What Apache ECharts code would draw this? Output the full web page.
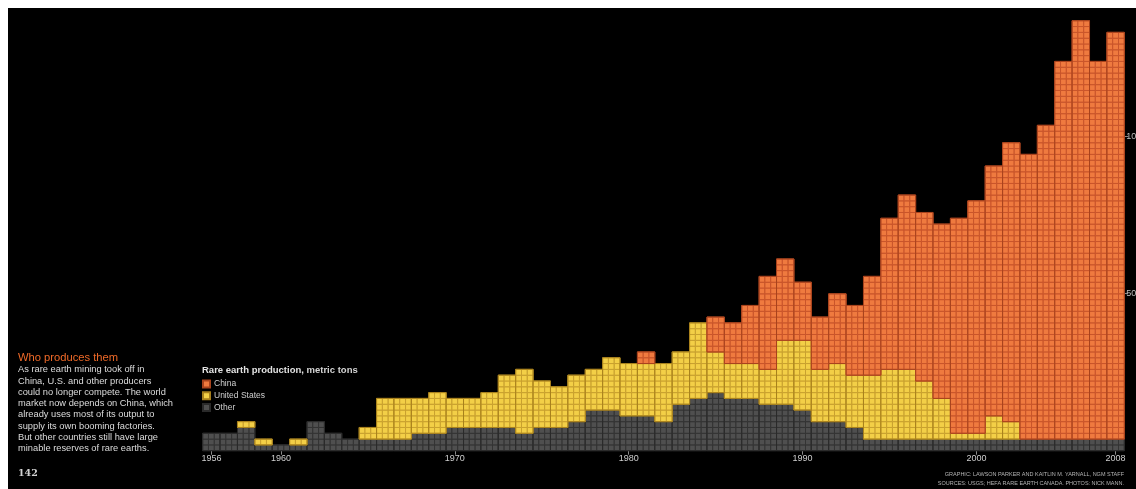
<!DOCTYPE html>
<html>
<head>
<meta charset="utf-8">
<script src="https://cdn.jsdelivr.net/npm/echarts@6/dist/echarts.min.js"></script>
<style>
  html, body { margin: 0; padding: 0; background: #ffffff; }
  #panel { position: absolute; left: 8px; top: 8px; right: 0; bottom: 0; background: #000000; }
  #chart { position: absolute; left: 0; top: 0; width: 1136px; height: 489px; }
</style>
</head>
<body>
<div id="panel"></div>
<div id="chart"></div>
<script>
// Rare earth production by producer, metric tons per year
const years = ['1956','1957','1958','1959','1960','1961','1962','1963','1964','1965',
  '1966','1967','1968','1969','1970','1971','1972','1973','1974','1975',
  '1976','1977','1978','1979','1980','1981','1982','1983','1984','1985',
  '1986','1987','1988','1989','1990','1991','1992','1993','1994','1995',
  '1996','1997','1998','1999','2000','2001','2002','2003','2004','2005',
  '2006','2007','2008'];

const otherTons = [5500, 5500, 7400, 1900, 1900, 1900, 9300, 5500, 3700, 3700,
  3700, 3700, 5500, 5500, 7400, 7400, 7400, 7400, 5500, 7400,
  7400, 9300, 13000, 13000, 11100, 11100, 9300, 14800, 16700, 18500,
  16700, 16700, 14800, 14800, 13000, 9300, 9300, 7400, 3700, 3700,
  3700, 3700, 3700, 3700, 3700, 3700, 3700, 3700, 3700, 3700,
  3700, 3700, 3700];

const usTons = [0, 0, 1900, 1900, 0, 1900, 0, 0, 0, 3700,
  13000, 13000, 11100, 13000, 9300, 9300, 11100, 16700, 20400, 14800,
  13000, 14800, 13000, 16700, 16700, 16700, 18500, 16700, 24100, 13000,
  11100, 11100, 11100, 20400, 22200, 16700, 18500, 16700, 20400, 22200,
  22200, 18500, 13000, 1900, 1900, 7400, 5600, 0, 0, 0,
  0, 0, 0];

const chinaTons = [0, 0, 0, 0, 0, 0, 0, 0, 0, 0,
  0, 0, 0, 0, 0, 0, 0, 0, 0, 0,
  0, 0, 0, 0, 0, 3700, 0, 0, 0, 11100,
  13000, 18500, 29600, 25900, 18500, 16700, 22200, 22200, 31500, 48100,
  55500, 53700, 55500, 68500, 74000, 79600, 88800, 90700, 99900, 120300,
  133200, 120300, 129500];

const xLabelYears = ['1956', '1960', '1970', '1980', '1990', '2000', '2008'];
const yTickValues = [50000, 100000];

const introTitle = 'Who produces them';
const introLines = [
  'As rare earth mining took off in',
  'China, U.S. and other producers',
  'could no longer compete. The world',
  'market now depends on China, which',
  'already uses most of its output to',
  'supply its own booming factories.',
  'But other countries still have large',
  'minable reserves of rare earths.'
];
const creditLines = [
  'GRAPHIC: LAWSON PARKER AND KAITLIN M. YARNALL, NGM STAFF',
  'SOURCES: USGS; HEFA RARE EARTH CANADA. PHOTOS: NICK MANN.'
];

// Each square of the grid stands for this many tons
const CELL_TONS = 1850;
const cellsOf = v => Math.round(v / CELL_TONS);

const SANS = '"Liberation Sans", Arial, Helvetica, sans-serif';

const palette = {
  'Other':         { fill: '#4f4f4f', line: '#343434', edge: '#2a2a2a' },
  'United States': { fill: '#f3cf47', line: '#c9a12f', edge: '#a8801c' },
  'China':         { fill: '#ef7a3f', line: '#c9552b', edge: '#a8431d' }
};

// Stack bases in whole squares so every segment sits on the one below
const otherBase = years.map(() => 0);
const usBase = years.map((_, i) => cellsOf(otherTons[i]) * CELL_TONS);
const chinaBase = years.map((_, i) => (cellsOf(otherTons[i]) + cellsOf(usTons[i])) * CELL_TONS);

function buildData(values, bases) {
  return values.map((v, i) => [i, bases[i], v]);
}

function makeRenderer(name) {
  const c = palette[name];
  return function (params, api) {
    const i = api.value(0);
    const start = cellsOf(api.value(1));
    const n = cellsOf(api.value(2));
    if (!n) return;
    const bw = api.size([1, 0])[0];
    const cellH = api.size([0, CELL_TONS])[1];
    const base = api.coord([i, 0]);
    const x0 = base[0] - bw / 2;
    const cellW = bw / 3;
    const children = [];
    for (let r = 0; r < n; r++) {
      const y = base[1] - (start + r + 1) * cellH;
      for (let k = 0; k < 3; k++) {
        children.push({
          type: 'rect',
          shape: { x: x0 + k * cellW, y: y, width: cellW, height: cellH },
          style: { fill: c.fill, stroke: c.line, lineWidth: 1 }
        });
      }
    }
    children.push({
      type: 'rect',
      shape: { x: x0, y: base[1] - (start + n) * cellH, width: bw, height: n * cellH },
      style: { fill: null, stroke: c.edge, lineWidth: 1 }
    });
    return { type: 'group', children: children };
  };
}

function series(name, values, bases) {
  return {
    name: name,
    type: 'custom',
    renderItem: makeRenderer(name),
    data: buildData(values, bases),
    encode: { x: 0, y: 2 },
    itemStyle: { color: palette[name].fill, borderColor: palette[name].edge, borderWidth: 1 },
    silent: true
  };
}

const chart = echarts.init(document.getElementById('chart'), null, { renderer: 'canvas' });

const graphics = [
  {
    type: 'text', left: 18, top: 352,
    style: { text: introTitle, fill: '#f06a28', font: '11.2px ' + SANS }
  },
  {
    type: 'text', left: 18, top: 364,
    style: { text: introLines.join('\n'), fill: '#dcdcdc', font: '9.3px ' + SANS, lineHeight: 11.3 }
  },
  {
    type: 'text', left: 18, top: 469,
    style: { text: '142', fill: '#d0d0d0', font: 'bold 9.5px "DejaVu Serif", "Liberation Serif", serif' }
  },
  {
    type: 'text', right: 12, top: 471,
    style: { text: creditLines[0], fill: '#b5b5b5', font: '5.5px ' + SANS, align: 'right' }
  },
  {
    type: 'text', right: 12, top: 480,
    style: { text: creditLines[1], fill: '#b5b5b5', font: '5.5px ' + SANS, align: 'right' }
  }
];

chart.setOption({
  backgroundColor: 'transparent',
  animation: false,
  textStyle: { fontFamily: SANS },
  title: {
    left: 202, top: 365.5,
    text: '{b|Rare earth production,}{n| metric tons}',
    textStyle: {
      rich: {
        b: { fontSize: 9.5, fontWeight: 'bold', color: '#e2e2e2', fontFamily: SANS },
        n: { fontSize: 9.5, color: '#d4d4d4', fontFamily: SANS }
      }
    },
    padding: 0
  },
  legend: {
    data: ['China', 'United States', 'Other'],
    orient: 'vertical',
    left: 202, top: 379.5,
    padding: 0,
    icon: 'rect',
    itemWidth: 7, itemHeight: 7, itemGap: 2.8,
    textStyle: { color: '#cfcfcf', fontSize: 8.5, fontFamily: SANS, padding: [0, 0, 0, -1] },
    selectedMode: false
  },
  grid: {
    left: 202.7, right: 11.7, top: 11, bottom: 38.3,
    containLabel: false, outerBoundsMode: 'none'
  },
  xAxis: {
    type: 'category',
    data: years,
    boundaryGap: true,
    axisLine: { show: false },
    axisTick: {
      show: true, length: 4, alignWithLabel: true,
      interval: (idx, val) => xLabelYears.includes(val),
      lineStyle: { color: '#8a8a8a', width: 1 }
    },
    axisLabel: {
      interval: (idx, val) => xLabelYears.includes(val),
      color: '#cfcfcf', fontSize: 9, margin: 3, fontFamily: SANS
    },
    splitLine: { show: false }
  },
  yAxis: {
    type: 'value',
    position: 'right',
    min: 0, max: 140000, interval: 50000,
    axisLine: { show: false },
    axisTick: { show: true, length: 4, customValues: yTickValues, lineStyle: { color: '#8a8a8a' } },
    axisLabel: {
      customValues: yTickValues,
      formatter: v => v.toLocaleString('en-US'),
      color: '#bdbdbd', fontSize: 9, margin: 2, fontFamily: SANS
    },
    splitLine: { show: false }
  },
  graphic: graphics,
  series: [
    series('Other', otherTons, otherBase),
    series('United States', usTons, usBase),
    series('China', chinaTons, chinaBase)
  ]
});
</script>
</body>
</html>
